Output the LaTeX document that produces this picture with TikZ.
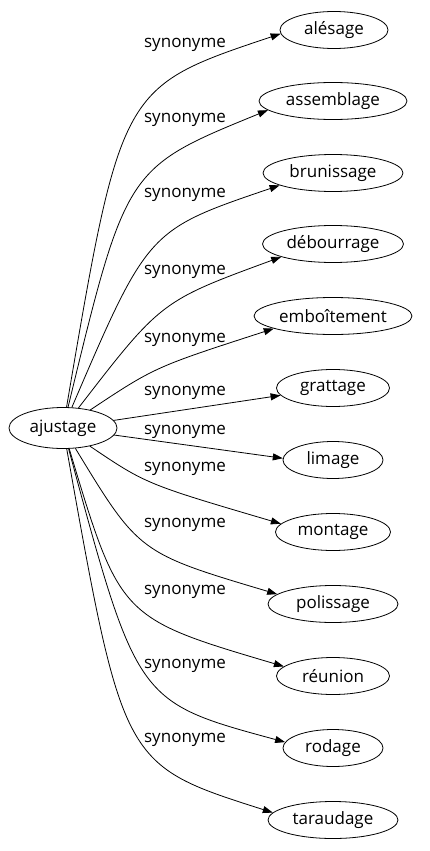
\documentclass[tikz,border=0pt]{standalone}
\usepackage{fontspec}
\setmainfont{Open Sans}
\usetikzlibrary{shapes.geometric, arrows.meta}

\begin{document}
\begin{tikzpicture}[
    x=1pt, y=1pt,
    line width=0.8pt,
    >={Triangle[length=10pt, width=7pt]},
    word/.style={ellipse, draw, inner sep=0pt, minimum height=37pt,
      font=\fontsize{17}{20}\selectfont},
    lab/.style={inner sep=0pt, font=\fontsize{17}{20}\selectfont}
  ]
  \useasboundingbox (0,0) rectangle (429,-851);

  % mot de départ
  \node[word, minimum width=108pt, minimum height=41pt] (ajustage) at (63,-428) {ajustage};

  % synonymes
  \node[word, minimum width=108pt] (alesage)    at (334,-30)  {alésage};
  \node[word, minimum width=148pt] (assemblage) at (333,-101) {assemblage};
  \node[word, minimum width=140pt] (brunissage) at (333,-173) {brunissage};
  \node[word, minimum width=141pt] (debourrage) at (333,-244) {débourrage};
  \node[word, minimum width=158pt] (emboitement) at (333,-316) {emboîtement};
  \node[word, minimum width=113pt] (grattage)   at (333,-388) {grattage};
  \node[word, minimum width=100pt] (limage)     at (333,-460) {limage};
  \node[word, minimum width=115pt] (montage)    at (333,-532) {montage};
  \node[word, minimum width=130pt] (polissage)  at (333,-604) {polissage};
  \node[word, minimum width=113pt] (reunion)    at (333,-676) {réunion};
  \node[word, minimum width=100pt] (rodage)     at (333,-748) {rodage};
  \node[word, minimum width=130pt] (taraudage)  at (333,-820) {taraudage};

  % liens
  \draw[->] (ajustage) .. controls (121,-87)  .. (alesage.184);
  \draw[->] (ajustage) .. controls (126,-168) .. (assemblage.188);
  \draw[->] (ajustage) .. controls (148,-230) .. (brunissage.193);
  \draw[->] (ajustage) .. controls (161,-301) .. (debourrage.194);
  \draw[->] (ajustage) .. controls (155,-367) .. (emboitement.192);
  \draw[->] (ajustage) -- (grattage.188);
  \draw[->] (ajustage) -- (limage.178);
  \draw[->] (ajustage) .. controls (146,-484) .. (montage.171);
  \draw[->] (ajustage) .. controls (139,-553) .. (polissage.170);
  \draw[->] (ajustage) .. controls (120,-618) .. (reunion.169);
  \draw[->] (ajustage) .. controls (137,-702) .. (rodage.173);
  \draw[->] (ajustage) .. controls (123,-765) .. (taraudage.173);

  % étiquettes
  \node[lab] (l1)  at (185,-45)  {synonyme};
  \node[lab] (l2)  at (185,-120) {synonyme};
  \node[lab] (l3)  at (185,-195) {synonyme};
  \node[lab] (l4)  at (185,-272) {synonyme};
  \node[lab] (l5)  at (185,-340) {synonyme};
  \node[lab] (l6)  at (185,-393) {synonyme};
  \node[lab] (l7)  at (185,-432) {synonyme};
  \node[lab] (l8)  at (185,-469) {synonyme};
  \node[lab] (l9)  at (185,-525) {synonyme};
  \node[lab] (l10) at (185,-592) {synonyme};
  \node[lab] (l11) at (185,-666) {synonyme};
  \node[lab] (l12) at (185,-740) {synonyme};
\end{tikzpicture}
\end{document}
